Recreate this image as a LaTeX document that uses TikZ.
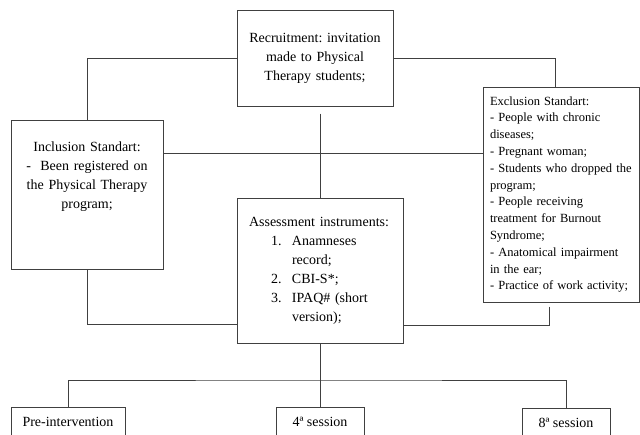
\documentclass[tikz,border=0pt]{standalone}
\usepackage{fontspec}
\setmainfont{Liberation Serif}
\frenchspacing
\tikzset{
  box/.style={draw=black!75, line width=1pt, align=center, font=\fontsize{14}{19}\selectfont},
  link/.style={draw=black!75, line width=1pt},
}
\begin{document}
\begin{tikzpicture}[x=1pt,y=-1pt]
    %% NOTE: page frame
    \clip (0,0) rectangle (640,434);
    %% boxes
    \node[box, minimum width=156pt, minimum height=96pt, text width=142pt] (recr) at (315,58)
        {Recruitment: invitation\\ made to Physical\\ Therapy students;};
    \node[box, minimum width=152pt, minimum height=149pt, text width=138pt] (incl) at (87,194.5)
        {Inclusion Standart:\\ -\ \ Been registered on\\ the Physical Therapy\\ program;\\ \mbox{}\\ \mbox{}};
    \node[box, align=left, minimum width=156pt, minimum height=215pt, text width=142pt, inner xsep=7pt,
        font=\fontsize{12.5}{16.8}\selectfont] (excl) at (561,194.5)
        {Exclusion Standart:\\ - People with chronic\\ diseases;\\ - Pregnant woman;\\
         - Students who dropped the\\ program;\\ - People receiving\\ treatment for Burnout\\
         Syndrome;\\ - Anatomical impairment\\ in the ear;\\ - Practice of work activity;};
    \node[box, align=left, minimum width=166pt, minimum height=145pt, text width=142pt, inner xsep=12pt] (assess) at (320,270.5)
        {Assessment instruments:\\
         \hspace*{22pt}\makebox[21pt][l]{1.}Anamneses\\ \hspace*{43pt}record;\\
         \hspace*{22pt}\makebox[21pt][l]{2.}CBI-S*;\\
         \hspace*{22pt}\makebox[21pt][l]{3.}IPAQ\# (short\\ \hspace*{43pt}version);};
    \node[box, minimum width=114pt, minimum height=30pt] (pre) at (68,422) {Pre-intervention};
    \node[box, minimum width=88pt, minimum height=30pt] (sfour) at (320,422) {4ª session};
    \node[box, minimum width=88pt, minimum height=30pt] (seight) at (566,423) {8ª session};
    %% connectors
    \draw[link] (recr.west) -| (incl.north);
    \draw[link] (recr.east) -| ([xshift=-6pt]excl.north);
    \draw[link] ([yshift=41.5pt]incl.east) -- ([yshift=41.5pt]excl.west);
    \draw[link, shorten <=7pt] (assess.north |- recr.south) -- (assess.north);
    \draw[link] (incl.south) |- ([yshift=19pt]assess.south west);
    \draw[link, shorten <=4pt] ([xshift=-12pt]excl.south) |- ([yshift=18pt]assess.south east);
    %% sessions
    \coordinate (split) at (320,380);
    \draw[link] (assess.south) -- (split);
    \draw[link] (pre.north) |- (split) -| (seight.north);
    \draw[link] (split) -- (sfour.north);
\end{tikzpicture}
\end{document}
